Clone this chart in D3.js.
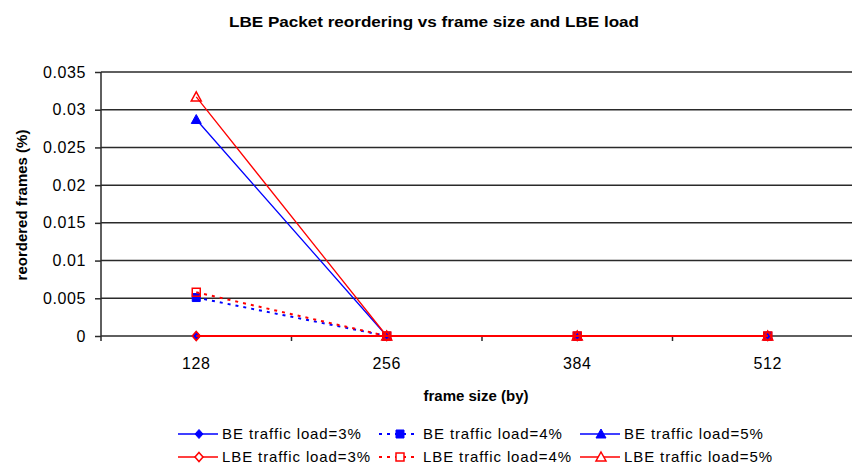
<!DOCTYPE html>
<html>
<head>
<meta charset="utf-8">
<script src="https://cdn.jsdelivr.net/npm/d3@7"></script>
<style>
  html, body { margin: 0; padding: 0; background: #fff; }
  svg { display: block; font-family: "Liberation Sans", Arial, sans-serif; }
</style>
</head>
<body>
<svg id="chart" width="852" height="464"></svg>
<script>
// Frame sizes (bytes) on the category axis
const frameSizes = [128, 256, 384, 512];
const yTicks = [0, 0.005, 0.01, 0.015, 0.02, 0.025, 0.03, 0.035];

// Reordered frames (%) per traffic class and load
const be3  = [0, 0, 0, 0];
const be4  = [0.0051, 0, 0, 0];
const be5  = [0.0287, 0, 0, 0];
const lbe3 = [0, 0, 0, 0];
const lbe4 = [0.0058, 0, 0, 0];
const lbe5 = [0.0317, 0, 0, 0];

const seriesNames = [
  "BE traffic load=3%", "BE traffic load=4%", "BE traffic load=5%",
  "LBE traffic load=3%", "LBE traffic load=4%", "LBE traffic load=5%"
];

const series = [
  { name: seriesNames[0], values: be3,  color: "#0000ff", dash: null,  width: 1.5, marker: "diamond",  hollow: false },
  { name: seriesNames[1], values: be4,  color: "#0000ff", dash: "3,5", width: 2,   marker: "square",   hollow: false },
  { name: seriesNames[2], values: be5,  color: "#0000ff", dash: null,  width: 1.3, marker: "triangle", hollow: false },
  { name: seriesNames[3], values: lbe3, color: "#ff0000", dash: null,  width: 2,   marker: "diamond",  hollow: true },
  { name: seriesNames[4], values: lbe4, color: "#ff0000", dash: "3,5", width: 2,   marker: "square",   hollow: true },
  { name: seriesNames[5], values: lbe5, color: "#ff0000", dash: null,  width: 1.3, marker: "triangle", hollow: true }
];

const svg = d3.select("#chart");
const plotLeft = 101, plotRight = 863, plotTop = 72, plotBottom = 336;

const x = d3.scaleBand().domain(frameSizes).range([plotLeft, plotRight]).padding(0);
const y = d3.scaleLinear().domain([0, 0.035]).range([plotBottom, plotTop]);
const cx = d => x(d) + x.bandwidth() / 2;

// Title
svg.append("text")
  .attr("x", 434).attr("y", 27)
  .attr("text-anchor", "middle")
  .style("font-weight", "bold").style("font-size", "14px")
  .attr("textLength", 410).attr("lengthAdjust", "spacingAndGlyphs")
  .text("LBE Packet reordering vs frame size and LBE load");

// Horizontal gridlines
svg.append("g").selectAll("line").data(yTicks.filter(t => t > 0)).join("line")
  .attr("x1", plotLeft).attr("x2", plotRight)
  .attr("y1", d => y(d)).attr("y2", d => y(d))
  .attr("stroke", "#2a2a2a").attr("stroke-width", 1.5);

// Y axis
const yAxis = d3.axisLeft(y).tickValues(yTicks).tickSize(6).tickPadding(9)
  .tickFormat(d => d === 0 ? "0" : String(+d.toFixed(3)));
const gy = svg.append("g").attr("transform", `translate(${plotLeft},0)`).call(yAxis);
gy.select(".domain").attr("stroke", "#2a2a2a").attr("stroke-width", 1.5)
  .attr("d", `M0,${plotTop}V${plotBottom + 5}`);
gy.selectAll(".tick line").attr("stroke", "#2a2a2a").attr("stroke-width", 1.5);
gy.selectAll(".tick text").style("font-size", "16px").style("letter-spacing", "0.6px")
  .attr("fill", "#000").attr("font-family", "Liberation Sans, Arial, sans-serif");

// X axis with ticks at band boundaries
const gx = svg.append("g").attr("transform", `translate(0,${plotBottom})`);
gx.append("line").attr("x1", plotLeft).attr("x2", plotRight).attr("y1", 0).attr("y2", 0)
  .attr("stroke", "#2a2a2a").attr("stroke-width", 1.5);
gx.selectAll("line.tk").data(frameSizes.slice(1)).join("line").attr("class", "tk")
  .attr("x1", d => x(d)).attr("x2", d => x(d)).attr("y1", 0).attr("y2", 5)
  .attr("stroke", "#2a2a2a").attr("stroke-width", 1.5);
gx.selectAll("text").data(frameSizes).join("text")
  .attr("x", d => cx(d)).attr("y", 33)
  .attr("text-anchor", "middle").style("font-size", "16px").style("letter-spacing", "0.6px")
  .text(d => d);

// Axis titles
svg.append("text")
  .attr("x", 476).attr("y", 401)
  .attr("text-anchor", "middle")
  .style("font-weight", "bold").style("font-size", "15px")
  .text("frame size (by)");
svg.append("text")
  .attr("transform", "translate(27,205) rotate(-90)")
  .attr("text-anchor", "middle")
  .style("font-weight", "bold").style("font-size", "15px")
  .text("reordered frames (%)");

// Marker shapes
function markerPath(type) {
  if (type === "diamond") return "M0,-4.5L4,0L0,4.5L-4,0Z";
  if (type === "square") return "M-4,-4H4V4H-4Z";
  return "M0,-5L5,4H-5Z";
}

const plot = svg.append("g");
const line = d3.line().x((d, i) => cx(frameSizes[i])).y(d => y(d));

series.forEach(s => {
  const g = plot.append("g");
  g.append("path").datum(s.values)
    .attr("d", line)
    .attr("fill", "none")
    .attr("stroke", s.color)
    .attr("stroke-width", s.width)
    .attr("stroke-dasharray", s.dash);
  g.selectAll("path.m").data(s.values).join("path").attr("class", "m")
    .attr("transform", (d, i) => `translate(${cx(frameSizes[i])},${y(d)})`)
    .attr("d", markerPath(s.marker))
    .attr("fill", s.hollow ? "none" : s.color)
    .attr("stroke", s.color)
    .attr("stroke-width", s.hollow ? 1.5 : 1);
});

// Legend: three columns, two rows
const legend = svg.append("g");
series.forEach((s, i) => {
  const col = i % 3, row = Math.floor(i / 3);
  const lx = 178 + col * 201, ly = 434 + row * 23;
  const g = legend.append("g").attr("transform", `translate(${lx},${ly})`);
  g.append("line").attr("x1", 0).attr("x2", 40).attr("y1", 0).attr("y2", 0)
    .attr("stroke", s.color)
    .attr("stroke-width", s.dash ? 2 : 1.5)
    .attr("stroke-dasharray", s.dash);
  g.append("path").attr("transform", "translate(21,0)")
    .attr("d", markerPath(s.marker))
    .attr("fill", s.hollow ? "#fff" : s.color)
    .attr("stroke", s.color)
    .attr("stroke-width", s.hollow ? 1.5 : 1);
  g.append("text").attr("x", 44).attr("y", 5)
    .style("font-size", "15px").style("letter-spacing", "0.9px")
    .text(s.name);
});
</script>
</body>
</html>
